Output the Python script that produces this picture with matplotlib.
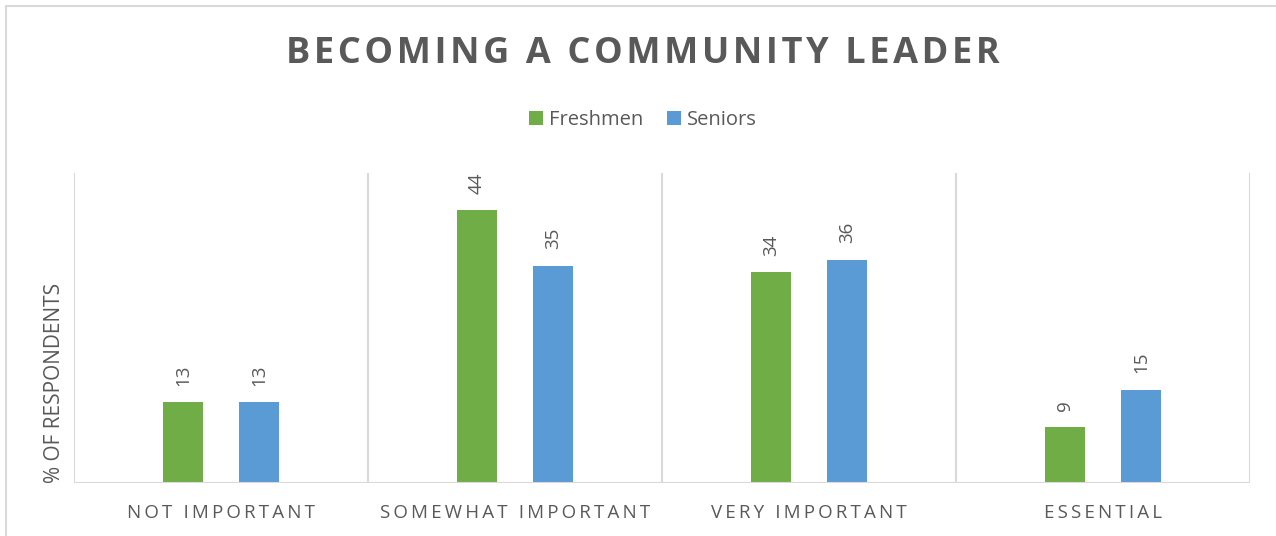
import numpy as np
import matplotlib.pyplot as plt
from matplotlib.patches import Rectangle

# Data
categories = ['NOT IMPORTANT', 'SOMEWHAT IMPORTANT', 'VERY IMPORTANT', 'ESSENTIAL']
freshmen = [13, 44, 34, 9]
seniors = [13, 35, 36, 15]
series_names = ['Freshmen', 'Seniors']

GREEN = '#70AD47'
BLUE = '#5B9BD5'
TXT = '#595959'
GRID = '#D9D9D9'

plt.rcParams['font.family'] = ['Open Sans', 'DejaVu Sans']

fig = plt.figure(figsize=(12.76, 5.36), dpi=100)
ax = fig.add_axes([74/1276, 1 - 483/536, (1250 - 74)/1276, (483 - 173)/536])

x = np.arange(len(categories))
w = 0.136
off = 0.129
b1 = ax.bar(x - off, freshmen, w, color=GREEN, label=series_names[0])
b2 = ax.bar(x + off, seniors, w, color=BLUE, label=series_names[1])

for bars in (b1, b2):
    for r in bars:
        ax.annotate(f'{int(r.get_height())}', (r.get_x() + r.get_width()/2, r.get_height()),
                    xytext=(0, 12), textcoords='offset points', rotation=90,
                    ha='center', va='bottom', fontsize=13.5, color=TXT)

ax.set_xlim(-0.5, len(categories) - 0.5)
ax.set_ylim(0, 50)

# category separators
for b in np.arange(-0.5, len(categories), 1.0):
    ax.axvline(b, color=GRID, lw=1.5, zorder=0)

for s in ax.spines.values():
    s.set_visible(False)
ax.axhline(0, color=GRID, lw=1.5, zorder=3)
ax.set_yticks([])
ax.set_xticks(x)
spaced = ['\u2009'.join(c) for c in categories]
ax.set_xticklabels(spaced, fontsize=13.5, color=TXT)
ax.tick_params(axis='x', length=0, pad=15)

title = '\u200a'.join('BECOMING A COMMUNITY LEADER')
fig.text(643/1276, 1 - 54/536, title, ha='center', va='center',
         fontsize=26, fontweight='bold', color=TXT)
fig.text(55/1276, 1 - 483/536, '% OF RESPONDENTS', rotation=90, ha='center', va='bottom',
         fontsize=15, color=TXT)

leg = fig.legend(loc='center', bbox_to_anchor=(643/1276, 1 - 120/536), ncol=2, frameon=False,
                 fontsize=14.5, handlelength=0.7, handleheight=0.7, handletextpad=0.3,
                 columnspacing=1.2)
for t in leg.get_texts():
    t.set_color(TXT)

# outer chart border
fig.patches.append(Rectangle((6/1276, -0.1), 1.2, (1 - 6/536) + 0.1, transform=fig.transFigure,
                             fill=False, edgecolor=GRID, lw=1.5))

fig.savefig('out.png', dpi=100)
